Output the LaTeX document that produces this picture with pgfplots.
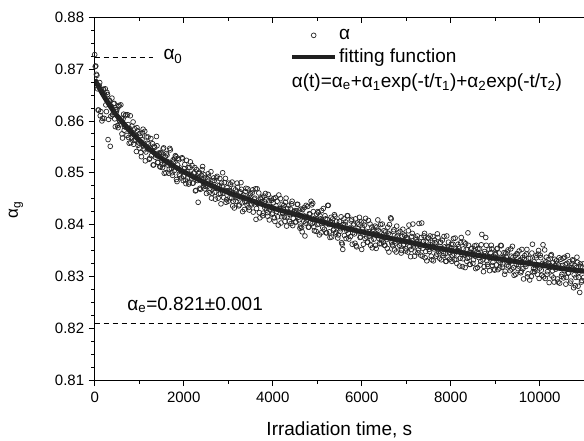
\documentclass[border=0pt]{standalone}
\usepackage{fontspec}
\setmainfont{Liberation Sans}
\usepackage{pgfplots}
\usepackage{pgfplotstable}
\pgfplotsset{compat=1.18}
\pgfplotsset{
  markleg/.style={legend image code/.code={\draw[##1] plot coordinates {(21.5pt,0pt)};}},
  lineleg/.style={legend image code/.code={\draw[##1, line width=4pt] (0pt,0pt) -- (43pt,0pt);}},
  dots/.style={only marks, mark=o, mark size=2.4pt, mark options={line width=0.7pt, fill=white, draw=black!85}},
}

\pgfplotstableread{
t a
0 0.8728
25 0.8706
50 0.8688
75 0.8621
100 0.8668
125 0.8610
150 0.8660
175 0.8605
200 0.8661
225 0.8650
250 0.8631
275 0.8655
300 0.8564
325 0.8640
350 0.8551
375 0.8628
400 0.8612
425 0.8633
450 0.8604
475 0.8622
500 0.8622
525 0.8587
550 0.8630
575 0.8594
600 0.8605
625 0.8567
650 0.8613
675 0.8589
700 0.8612
725 0.8572
750 0.8593
775 0.8557
800 0.8610
825 0.8568
850 0.8577
875 0.8555
900 0.8585
925 0.8563
950 0.8587
975 0.8553
1000 0.8548
1025 0.8571
1050 0.8531
1075 0.8577
1100 0.8552
1125 0.8580
1150 0.8540
1175 0.8557
1200 0.8569
1225 0.8526
1250 0.8547
1275 0.8533
1300 0.8556
1325 0.8515
1350 0.8549
1375 0.8534
1400 0.8552
1425 0.8520
1450 0.8537
1475 0.8511
1500 0.8536
1525 0.8510
1550 0.8548
1575 0.8518
1600 0.8500
1625 0.8534
1650 0.8521
1675 0.8507
1700 0.8544
1725 0.8508
1750 0.8495
1775 0.8522
1800 0.8528
1825 0.8531
1850 0.8483
1875 0.8528
1900 0.8497
1925 0.8509
1950 0.8490
1975 0.8527
2000 0.8493
2025 0.8516
2050 0.8479
2075 0.8503
2100 0.8510
2125 0.8481
2150 0.8521
2175 0.8490
2200 0.8480
2225 0.8499
2250 0.8510
2275 0.8466
2300 0.8491
2325 0.8443
2350 0.8501
2375 0.8468
2400 0.8495
2425 0.8512
2450 0.8479
2475 0.8469
2500 0.8491
2525 0.8473
2550 0.8498
2575 0.8462
2600 0.8479
2625 0.8451
2650 0.8484
2675 0.8490
2700 0.8462
2725 0.8470
2750 0.8493
2775 0.8451
2800 0.8475
2825 0.8460
2850 0.8480
2875 0.8500
2900 0.8452
2925 0.8466
2950 0.8443
2975 0.8471
3000 0.8445
3025 0.8466
3050 0.8478
3075 0.8451
3100 0.8436
3125 0.8470
3150 0.8459
3175 0.8445
3200 0.8480
3225 0.8451
3250 0.8438
3275 0.8463
3300 0.8468
3325 0.8425
3350 0.8457
3375 0.8444
3400 0.8470
3425 0.8438
3450 0.8451
3475 0.8428
3500 0.8460
3525 0.8438
3550 0.8467
3575 0.8442
3600 0.8451
3625 0.8410
3650 0.8469
3675 0.8440
3700 0.8423
3725 0.8451
3750 0.8444
3775 0.8417
3800 0.8455
3825 0.8432
3850 0.8448
3875 0.8423
3900 0.8458
3925 0.8409
3950 0.8435
3975 0.8447
4000 0.8422
4025 0.8450
4050 0.8406
4075 0.8436
4100 0.8445
4125 0.8399
4150 0.8431
4175 0.8450
4200 0.8415
4225 0.8421
4250 0.8437
4275 0.8406
4300 0.8451
4325 0.8415
4350 0.8424
4375 0.8406
4400 0.8430
4425 0.8440
4450 0.8398
4475 0.8425
4500 0.8427
4525 0.8405
4550 0.8439
4575 0.8414
4600 0.8428
4625 0.8397
4650 0.8394
4675 0.8429
4700 0.8406
4725 0.8378
4750 0.8437
4775 0.8415
4800 0.8395
4825 0.8421
4850 0.8405
4875 0.8438
4900 0.8441
4925 0.8396
4950 0.8412
4975 0.8387
5000 0.8400
5025 0.8423
5050 0.8380
5075 0.8411
5100 0.8427
5125 0.8394
5150 0.8403
5175 0.8417
5200 0.8384
5225 0.8410
5250 0.8437
5275 0.8386
5300 0.8404
5325 0.8376
5350 0.8411
5375 0.8391
5400 0.8416
5425 0.8385
5450 0.8399
5475 0.8380
5500 0.8406
5525 0.8392
5550 0.8365
5575 0.8352
5600 0.8411
5625 0.8400
5650 0.8373
5675 0.8417
5700 0.8383
5725 0.8393
5750 0.8377
5775 0.8410
5800 0.8384
5825 0.8401
5850 0.8364
5875 0.8359
5900 0.8403
5925 0.8386
5950 0.8414
5975 0.8376
6000 0.8352
6025 0.8394
6050 0.8405
6075 0.8373
6100 0.8387
6125 0.8366
6150 0.8408
6175 0.8378
6200 0.8360
6225 0.8395
6250 0.8387
6275 0.8372
6300 0.8397
6325 0.8354
6350 0.8381
6375 0.8389
6400 0.8363
6425 0.8400
6450 0.8370
6475 0.8376
6500 0.8388
6525 0.8360
6550 0.8378
6575 0.8354
6600 0.8383
6625 0.8400
6650 0.8413
6675 0.8365
6700 0.8359
6725 0.8390
6750 0.8368
6775 0.8347
6800 0.8378
6825 0.8384
6850 0.8360
6875 0.8370
6900 0.8350
6925 0.8391
6950 0.8362
6975 0.8378
7000 0.8353
7025 0.8372
7050 0.8388
7075 0.8357
7100 0.8338
7125 0.8377
7150 0.8401
7175 0.8361
7200 0.8347
7225 0.8371
7250 0.8378
7275 0.8351
7300 0.8364
7325 0.8341
7350 0.8403
7375 0.8354
7400 0.8378
7425 0.8336
7450 0.8368
7475 0.8356
7500 0.8374
7525 0.8348
7550 0.8361
7575 0.8332
7600 0.8377
7625 0.8353
7650 0.8365
7675 0.8339
7700 0.8382
7725 0.8348
7750 0.8335
7775 0.8366
7800 0.8354
7825 0.8340
7850 0.8377
7875 0.8344
7900 0.8329
7925 0.8357
7950 0.8366
7975 0.8333
8000 0.8355
8025 0.8329
8050 0.8362
8075 0.8343
8100 0.8374
8125 0.8333
8150 0.8350
8175 0.8357
8200 0.8320
8225 0.8365
8250 0.8342
8275 0.8334
8300 0.8366
8325 0.8317
8350 0.8352
8375 0.8335
8400 0.8360
8425 0.8323
8450 0.8346
8475 0.8354
8500 0.8325
8525 0.8350
8550 0.8339
8575 0.8360
8600 0.8317
8625 0.8344
8650 0.8353
8675 0.8329
8700 0.8381
8725 0.8332
8750 0.8319
8775 0.8344
8800 0.8360
8825 0.8323
8850 0.8338
8875 0.8311
8900 0.8346
8925 0.8353
8950 0.8327
8975 0.8314
9000 0.8344
9025 0.8322
9050 0.8354
9075 0.8330
9100 0.8316
9125 0.8360
9150 0.8336
9175 0.8324
9200 0.8346
9225 0.8310
9250 0.8337
9275 0.8347
9300 0.8320
9325 0.8329
9350 0.8353
9375 0.8314
9400 0.8337
9425 0.8302
9450 0.8340
9475 0.8323
9500 0.8343
9525 0.8320
9550 0.8330
9575 0.8307
9600 0.8352
9625 0.8315
9650 0.8333
9675 0.8323
9700 0.8343
9725 0.8299
9750 0.8335
9775 0.8293
9800 0.8325
9825 0.8345
9850 0.8309
9875 0.8328
9900 0.8314
9925 0.8336
9950 0.8304
9975 0.8350
10000 0.8316
10025 0.8336
10050 0.8302
10075 0.8361
10100 0.8323
10125 0.8296
10150 0.8337
10175 0.8309
10200 0.8326
10225 0.8317
10250 0.8340
10275 0.8301
10300 0.8327
10325 0.8289
10350 0.8321
10375 0.8330
10400 0.8295
10425 0.8322
10450 0.8287
10475 0.8333
10500 0.8304
10525 0.8335
10550 0.8311
10575 0.8323
10600 0.8298
10625 0.8340
10650 0.8307
10675 0.8316
10700 0.8291
10725 0.8325
10750 0.8330
10775 0.8303
10800 0.8282
10825 0.8317
10850 0.8327
10875 0.8298
10900 0.8269
10925 0.8319
10950 0.8292
10975 0.8324
11000 0.8312
}\measured

\pgfplotstableread{
t a
12.5 0.8705
37.5 0.8690
62.5 0.8662
87.5 0.8621
112.5 0.8674
137.5 0.8618
162.5 0.8600
187.5 0.8661
212.5 0.8605
237.5 0.8662
262.5 0.8618
287.5 0.8651
312.5 0.8603
337.5 0.8639
362.5 0.8609
387.5 0.8644
412.5 0.8612
437.5 0.8634
462.5 0.8589
487.5 0.8618
512.5 0.8591
537.5 0.8628
562.5 0.8599
587.5 0.8631
612.5 0.8575
637.5 0.8604
662.5 0.8582
687.5 0.8610
712.5 0.8587
737.5 0.8612
762.5 0.8568
787.5 0.8585
812.5 0.8558
837.5 0.8590
862.5 0.8598
887.5 0.8563
912.5 0.8572
937.5 0.8541
962.5 0.8581
987.5 0.8558
1012.5 0.8576
1037.5 0.8539
1062.5 0.8564
1087.5 0.8584
1112.5 0.8544
1137.5 0.8523
1162.5 0.8569
1187.5 0.8546
1212.5 0.8556
1237.5 0.8528
1262.5 0.8566
1287.5 0.8543
1312.5 0.8515
1337.5 0.8551
1362.5 0.8530
1387.5 0.8570
1412.5 0.8520
1437.5 0.8538
1462.5 0.8512
1487.5 0.8539
1512.5 0.8516
1537.5 0.8546
1562.5 0.8499
1587.5 0.8531
1612.5 0.8537
1637.5 0.8515
1662.5 0.8499
1687.5 0.8547
1712.5 0.8519
1737.5 0.8500
1762.5 0.8525
1787.5 0.8504
1812.5 0.8533
1837.5 0.8487
1862.5 0.8515
1887.5 0.8525
1912.5 0.8494
1937.5 0.8504
1962.5 0.8529
1987.5 0.8485
2012.5 0.8508
2037.5 0.8486
2062.5 0.8524
2087.5 0.8490
2112.5 0.8478
2137.5 0.8510
2162.5 0.8497
2187.5 0.8514
2212.5 0.8480
2237.5 0.8500
2262.5 0.8465
2287.5 0.8506
2312.5 0.8485
2337.5 0.8498
2362.5 0.8470
2387.5 0.8489
2412.5 0.8506
2437.5 0.8473
2462.5 0.8496
2487.5 0.8474
2512.5 0.8460
2537.5 0.8488
2562.5 0.8492
2587.5 0.8470
2612.5 0.8502
2637.5 0.8460
2662.5 0.8471
2687.5 0.8485
2712.5 0.8449
2737.5 0.8490
2762.5 0.8476
2787.5 0.8459
2812.5 0.8489
2837.5 0.8440
2862.5 0.8474
2887.5 0.8461
2912.5 0.8481
2937.5 0.8489
2962.5 0.8448
2987.5 0.8465
3012.5 0.8480
3037.5 0.8452
3062.5 0.8463
3087.5 0.8482
3112.5 0.8445
3137.5 0.8432
3162.5 0.8467
3187.5 0.8453
3212.5 0.8472
3237.5 0.8436
3262.5 0.8461
3287.5 0.8481
3312.5 0.8442
3337.5 0.8453
3362.5 0.8429
3387.5 0.8464
3412.5 0.8444
3437.5 0.8469
3462.5 0.8433
3487.5 0.8457
3512.5 0.8440
3537.5 0.8461
3562.5 0.8424
3587.5 0.8449
3612.5 0.8469
3637.5 0.8431
3662.5 0.8441
3687.5 0.8461
3712.5 0.8413
3737.5 0.8449
3762.5 0.8452
3787.5 0.8422
3812.5 0.8444
3837.5 0.8460
3862.5 0.8428
3887.5 0.8416
3912.5 0.8446
3937.5 0.8430
3962.5 0.8451
3987.5 0.8420
4012.5 0.8442
4037.5 0.8413
4062.5 0.8452
4087.5 0.8425
4112.5 0.8415
4137.5 0.8457
4162.5 0.8430
4187.5 0.8403
4212.5 0.8439
4237.5 0.8432
4262.5 0.8415
4287.5 0.8443
4312.5 0.8397
4337.5 0.8431
4362.5 0.8437
4387.5 0.8419
4412.5 0.8402
4437.5 0.8445
4462.5 0.8412
4487.5 0.8424
4512.5 0.8405
4537.5 0.8426
4562.5 0.8439
4587.5 0.8409
4612.5 0.8393
4637.5 0.8430
4662.5 0.8386
4687.5 0.8418
4712.5 0.8433
4737.5 0.8403
4762.5 0.8408
4787.5 0.8435
4812.5 0.8395
4837.5 0.8420
4862.5 0.8445
4887.5 0.8402
4912.5 0.8425
4937.5 0.8388
4962.5 0.8409
4987.5 0.8420
5012.5 0.8425
5037.5 0.8401
5062.5 0.8417
5087.5 0.8384
5112.5 0.8408
5137.5 0.8431
5162.5 0.8391
5187.5 0.8411
5212.5 0.8384
5237.5 0.8437
5262.5 0.8400
5287.5 0.8375
5312.5 0.8414
5337.5 0.8404
5362.5 0.8389
5387.5 0.8419
5412.5 0.8382
5437.5 0.8406
5462.5 0.8374
5487.5 0.8398
5512.5 0.8387
5537.5 0.8415
5562.5 0.8362
5587.5 0.8400
5612.5 0.8379
5637.5 0.8405
5662.5 0.8389
5687.5 0.8417
5712.5 0.8372
5737.5 0.8393
5762.5 0.8407
5787.5 0.8362
5812.5 0.8399
5837.5 0.8382
5862.5 0.8411
5887.5 0.8357
5912.5 0.8392
5937.5 0.8401
5962.5 0.8375
5987.5 0.8405
6012.5 0.8391
6037.5 0.8362
6062.5 0.8399
6087.5 0.8412
6112.5 0.8376
6137.5 0.8366
6162.5 0.8386
6187.5 0.8401
6212.5 0.8370
6237.5 0.8355
6262.5 0.8391
6287.5 0.8381
6312.5 0.8360
6337.5 0.8395
6362.5 0.8409
6387.5 0.8373
6412.5 0.8386
6437.5 0.8363
6462.5 0.8401
6487.5 0.8366
6512.5 0.8360
6537.5 0.8386
6562.5 0.8371
6587.5 0.8395
6612.5 0.8347
6637.5 0.8380
6662.5 0.8411
6687.5 0.8361
6712.5 0.8387
6737.5 0.8351
6762.5 0.8374
6787.5 0.8397
6812.5 0.8357
6837.5 0.8368
6862.5 0.8387
6887.5 0.8345
6912.5 0.8377
6937.5 0.8360
6962.5 0.8380
6987.5 0.8349
7012.5 0.8375
7037.5 0.8347
7062.5 0.8399
7087.5 0.8367
7112.5 0.8352
7137.5 0.8383
7162.5 0.8357
7187.5 0.8339
7212.5 0.8374
7237.5 0.8367
7262.5 0.8346
7287.5 0.8402
7312.5 0.8358
7337.5 0.8375
7362.5 0.8339
7387.5 0.8367
7412.5 0.8383
7437.5 0.8348
7462.5 0.8330
7487.5 0.8374
7512.5 0.8352
7537.5 0.8378
7562.5 0.8339
7587.5 0.8366
7612.5 0.8330
7637.5 0.8370
7662.5 0.8358
7687.5 0.8343
7712.5 0.8375
7737.5 0.8352
7762.5 0.8365
7787.5 0.8332
7812.5 0.8370
7837.5 0.8344
7862.5 0.8357
7887.5 0.8329
7912.5 0.8378
7937.5 0.8337
7962.5 0.8357
7987.5 0.8346
8012.5 0.8362
8037.5 0.8341
8062.5 0.8373
8087.5 0.8332
8112.5 0.8353
8137.5 0.8325
8162.5 0.8362
8187.5 0.8348
8212.5 0.8335
8237.5 0.8375
8262.5 0.8319
8287.5 0.8353
8312.5 0.8341
8337.5 0.8363
8362.5 0.8329
8387.5 0.8384
8412.5 0.8337
8437.5 0.8323
8462.5 0.8353
8487.5 0.8344
8512.5 0.8332
8537.5 0.8359
8562.5 0.8315
8587.5 0.8347
8612.5 0.8353
8637.5 0.8336
8662.5 0.8322
8687.5 0.8361
8712.5 0.8341
8737.5 0.8309
8762.5 0.8348
8787.5 0.8375
8812.5 0.8330
8837.5 0.8319
8862.5 0.8352
8887.5 0.8334
8912.5 0.8360
8937.5 0.8321
8962.5 0.8339
8987.5 0.8312
9012.5 0.8342
9037.5 0.8353
9062.5 0.8313
9087.5 0.8345
9112.5 0.8327
9137.5 0.8359
9162.5 0.8318
9187.5 0.8335
9212.5 0.8304
9237.5 0.8345
9262.5 0.8322
9287.5 0.8351
9312.5 0.8327
9337.5 0.8311
9362.5 0.8339
9387.5 0.8358
9412.5 0.8317
9437.5 0.8330
9462.5 0.8304
9487.5 0.8344
9512.5 0.8315
9537.5 0.8349
9562.5 0.8332
9587.5 0.8310
9612.5 0.8336
9637.5 0.8295
9662.5 0.8340
9687.5 0.8319
9712.5 0.8352
9737.5 0.8305
9762.5 0.8326
9787.5 0.8335
9812.5 0.8300
9837.5 0.8362
9862.5 0.8315
9887.5 0.8309
9912.5 0.8340
9937.5 0.8320
9962.5 0.8343
9987.5 0.8296
10012.5 0.8341
10037.5 0.8312
10062.5 0.8325
10087.5 0.8299
10112.5 0.8351
10137.5 0.8328
10162.5 0.8304
10187.5 0.8332
10212.5 0.8288
10237.5 0.8321
10262.5 0.8342
10287.5 0.8311
10312.5 0.8297
10337.5 0.8333
10362.5 0.8314
10387.5 0.8325
10412.5 0.8289
10437.5 0.8336
10462.5 0.8316
10487.5 0.8300
10512.5 0.8321
10537.5 0.8297
10562.5 0.8337
10587.5 0.8285
10612.5 0.8325
10637.5 0.8306
10662.5 0.8328
10687.5 0.8287
10712.5 0.8317
10737.5 0.8332
10762.5 0.8278
10787.5 0.8321
10812.5 0.8298
10837.5 0.8337
10862.5 0.8281
10887.5 0.8308
10912.5 0.8324
10937.5 0.8289
10962.5 0.8318
10987.5 0.8298
}\measuredb

% fitted curve
\pgfplotstableread{
t a
0 0.8680
50 0.8672
100 0.8664
200 0.8649
300 0.8635
400 0.8622
500 0.8610
600 0.8600
700 0.8590
800 0.8580
900 0.8571
1000 0.8563
1250 0.8544
1500 0.8528
1750 0.8514
2000 0.8502
2500 0.8480
3000 0.8462
3500 0.8447
4000 0.8432
4500 0.8420
5000 0.8408
5500 0.8396
6000 0.8386
6500 0.8376
7000 0.8367
7500 0.8358
8000 0.8350
8500 0.8342
9000 0.8335
9500 0.8328
10000 0.8322
10500 0.8315
11000 0.8310
}\fitted

\begin{document}
\begin{tikzpicture}
\begin{axis}[
    name=main,
    scale only axis,
    width=489.3pt, height=362.7pt,
    xmin=0, xmax=10996,
    ymin=0.81, ymax=0.88,
    axis x line*=bottom, axis y line*=left,
    axis line style={line width=0.9pt},
    tick align=outside,
    xtick={0,2000,4000,6000,8000,10000},
    minor xtick={1000,3000,5000,7000,9000},
    ytick={0.81,0.82,0.83,0.84,0.85,0.86,0.87,0.88},
    minor y tick num=3,
    major tick length=6pt, minor tick length=3.5pt,
    every tick/.style={black, line width=0.8pt},
    /pgf/number format/assume math mode=true,
    scaled x ticks=false, scaled y ticks=false,
    tick label style={font=\fontsize{15}{16}\selectfont},
    yticklabel style={/pgf/number format/fixed, /pgf/number format/fixed zerofill, /pgf/number format/precision=2, xshift=-1pt},
    xticklabel style={/pgf/number format/1000 sep={}, yshift=-2pt},
    xlabel={Irradiation time, s},
    ylabel={α\textsubscript{g}},
    xlabel style={font=\fontsize{19}{20}\selectfont, yshift=-13pt},
    ylabel style={font=\fontsize{17}{18}\selectfont, at={(rel axis cs:-0.161,0.469)}, anchor=center},
    legend style={at={(rel axis cs:0.393,0.978)}, anchor=north west, draw=none, fill=none,
        font=\fontsize{19}{20}\selectfont, row sep=4pt},
    legend cell align=left,
]
\addplot[dots, markleg] table[x=t, y=a] {\measured};
\addlegendentry{α}
\addplot[dots, forget plot] table[x=t, y=a] {\measuredb};
\addplot[smooth, line width=5pt, black!88, no marks, lineleg]
    table[x=t, y=a] {\fitted};
\addlegendentry{fitting function}
\addplot[dashed, dash pattern=on 5pt off 4pt, line width=0.8pt, forget plot]
    coordinates {(0,0.8723) (1300,0.8723)};
\addplot[dashed, dash pattern=on 5pt off 4pt, line width=0.8pt, forget plot]
    coordinates {(0,0.821) (11000,0.821)};
\node[anchor=base west, font=\fontsize{19}{20}\selectfont, inner sep=0pt]
    at (axis cs:1542,0.8718) {α\textsubscript{0}};
\node[anchor=base west, font=\fontsize{19}{20}\selectfont, inner sep=0pt]
    at (axis cs:730,0.8235) {α\textsubscript{e}=0.821±0.001};
\node[anchor=base west, font=\fontsize{19}{20}\selectfont, inner sep=0pt]
    at (rel axis cs:0.4026,0.8078) {α(t)=α\textsubscript{e}+α\textsubscript{1}exp(-t/τ\textsubscript{1})+α\textsubscript{2}exp(-t/τ\textsubscript{2})};
\end{axis}
% top frame line with inward ticks
\begin{axis}[
    at={(main.south west)}, anchor=south west,
    scale only axis,
    width=489.3pt, height=362.7pt,
    xmin=0, xmax=10996,
    ymin=0.81, ymax=0.88,
    axis x line*=top, axis y line=none,
    axis line style={line width=0.9pt},
    tick align=inside,
    scaled x ticks=false,
    xtick={0,2000,4000,6000,8000,10000},
    minor xtick={1000,3000,5000,7000,9000},
    xticklabels={},
    major tick length=6pt, minor tick length=3.5pt,
    every tick/.style={black, line width=0.8pt},
]
\end{axis}
\pgfresetboundingbox
\path[use as bounding box] ([xshift=-94.7pt,yshift=-60pt]main.south west) rectangle ([yshift=17.3pt]main.north east);
\end{tikzpicture}
\end{document}
